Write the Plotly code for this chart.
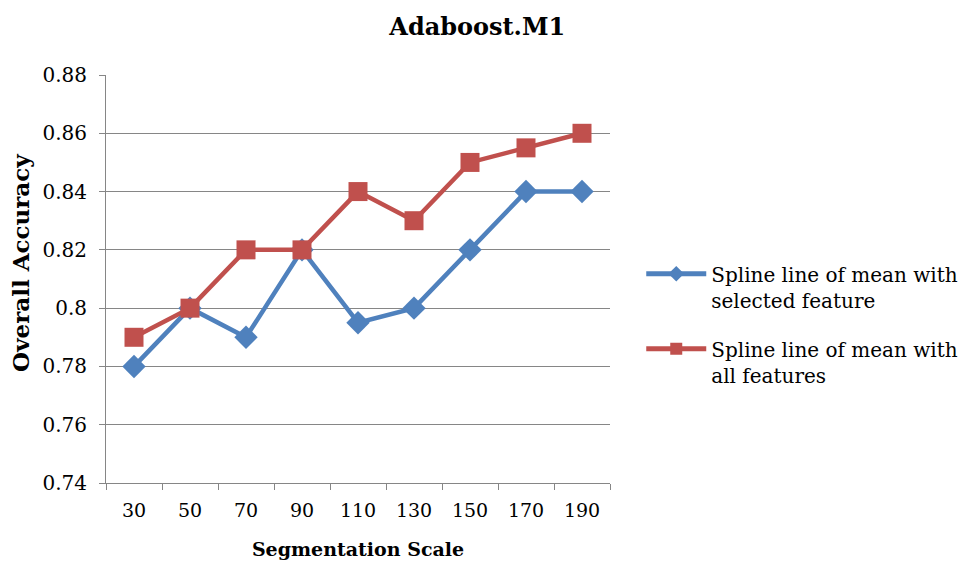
import plotly.graph_objects as go

categories = ["30", "50", "70", "90", "110", "130", "150", "170", "190"]
selected = [0.78, 0.80, 0.79, 0.82, 0.795, 0.80, 0.82, 0.84, 0.84]
all_feat = [0.79, 0.80, 0.82, 0.82, 0.84, 0.83, 0.85, 0.855, 0.86]
y_ticks = [0.74, 0.76, 0.78, 0.80, 0.82, 0.84, 0.86, 0.88]
y_tick_text = ["0.74", "0.76", "0.78", "0.8", "0.82", "0.84", "0.86", "0.88"]

SERIF = "DejaVu Serif, Liberation Serif, serif"

fig = go.Figure()
fig.add_trace(go.Scatter(
    x=categories, y=selected, mode="lines+markers",
    name="Spline line of mean with<br>selected feature", legendgroup="a",
    line=dict(color="#4F81BD", width=4.5),
    marker=dict(symbol="diamond", size=18, color="#4F81BD"),
))
fig.add_trace(go.Scatter(
    x=categories, y=all_feat, mode="lines+markers",
    name="Spline line of mean with<br>all features", legendgroup="b",
    line=dict(color="#C0504D", width=4.5),
    marker=dict(symbol="square", size=19, color="#C0504D"),
))

fig.update_layout(
    width=978, height=563,
    margin=dict(l=106, r=368, t=75, b=80),
    paper_bgcolor="white", plot_bgcolor="white",
    font=dict(family=SERIF, color="black"),
    title=dict(text="<b>Adaboost.M1</b>", x=0.488, xanchor="center",
               y=0.952, yanchor="middle", font=dict(size=24, family=SERIF)),
    legend=dict(x=1.062, y=0.389, xanchor="left", yanchor="middle",
                font=dict(size=20, family=SERIF), tracegroupgap=20,
                itemwidth=60, itemsizing="constant", valign="top",
                bgcolor="rgba(0,0,0,0)"),
    showlegend=True,
    annotations=[dict(
        text="<b>Overall Accuracy</b>", textangle=-90,
        xref="paper", yref="paper", x=-0.171, y=0.539,
        xanchor="center", yanchor="middle", showarrow=False,
        font=dict(size=23, family=SERIF),
    )],
)
fig.update_xaxes(
    type="category", range=[-0.5, 8.5], automargin=False,
    showline=True, linecolor="#868686", linewidth=1,
    ticks="outside", tickson="boundaries", ticklen=6, tickcolor="#868686",
    ticklabelstandoff=10,
    showgrid=False,
    tickfont=dict(size=19, family=SERIF),
    title=dict(text="<b>Segmentation Scale</b>", font=dict(size=19, family=SERIF), standoff=22),
)
fig.update_yaxes(
    range=[0.74, 0.88], tickvals=y_ticks, ticktext=y_tick_text, automargin=False,
    showline=True, linecolor="#868686", linewidth=1,
    ticks="outside", ticklen=6, tickcolor="#868686",
    ticklabelstandoff=8,
    showgrid=True, gridcolor="#868686", gridwidth=1,
    zeroline=False,
    tickfont=dict(size=20, family=SERIF),
)

fig.write_html("out.html")
